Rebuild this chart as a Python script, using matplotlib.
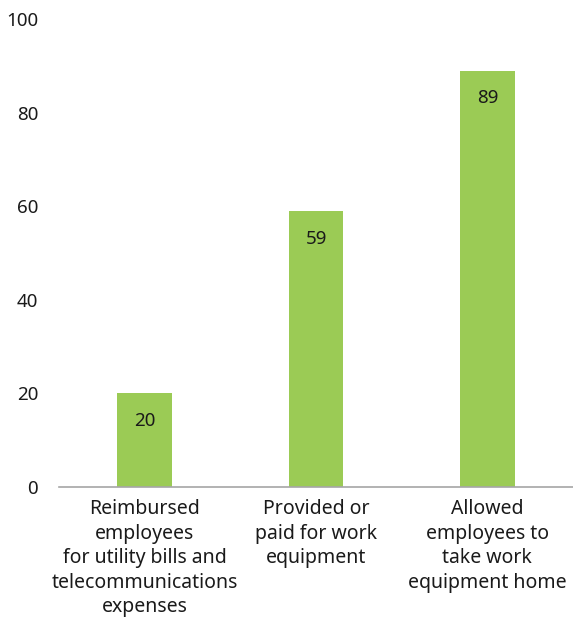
import matplotlib.pyplot as plt

categories = [
    "Reimbursed\nemployees\nfor utility bills and\ntelecommunications\nexpenses",
    "Provided or\npaid for work\nequipment",
    "Allowed\nemployees to\ntake work\nequipment home",
]
values = [20, 59, 89]
yticks = [0, 20, 40, 60, 80, 100]

plt.rcParams['font.family'] = ['Noto Sans', 'DejaVu Sans']

fig = plt.figure(figsize=(5.73, 6.17), dpi=100)
ax = fig.add_axes([0.103, 0.2107, 0.897, 0.7583])

x = range(len(values))
ax.bar(x, values, width=0.32, color='#9BCB55', zorder=2)

# value labels sit just inside the top of each bar
for xi, v in zip(x, values):
    ax.annotate(str(v), (xi, v), xytext=(0, -20), textcoords='offset points',
                ha='center', va='center', fontsize=13.5, color='#1a1a1a')

ax.set_xlim(-0.5, len(values) - 0.5)
ax.set_ylim(0, 100)
ax.set_yticks(yticks)
ax.set_xticks(list(x))
ax.set_xticklabels(categories, fontsize=14, color='#1a1a1a', linespacing=1.3)
ax.tick_params(axis='y', length=0, pad=15, labelsize=13.5, labelcolor='#1a1a1a')
ax.tick_params(axis='x', length=0, pad=9)

for side in ['top', 'right', 'left']:
    ax.spines[side].set_visible(False)
ax.spines['bottom'].set_color('#a6a6a6')
ax.spines['bottom'].set_linewidth(1.2)

fig.savefig('out.png', dpi=100)
